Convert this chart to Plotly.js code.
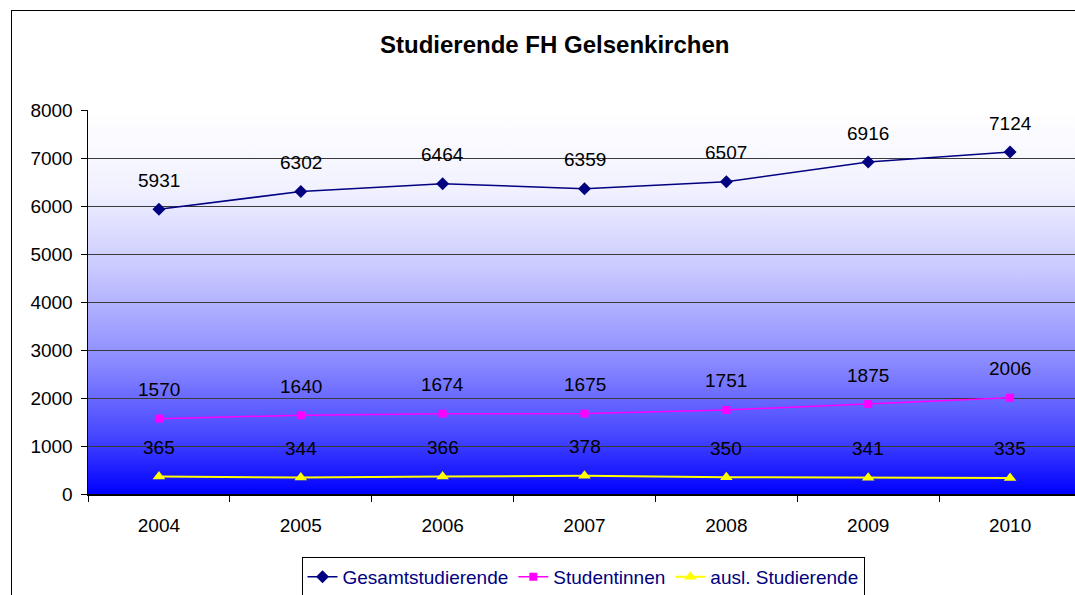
<!DOCTYPE html>
<html>
<head>
<meta charset="utf-8">
<script src="https://cdn.plot.ly/plotly-3.0.1.min.js"></script>
<style>
  html, body { margin: 0; padding: 0; width: 1075px; height: 595px; overflow: hidden; background: #ffffff; }
  #bg { position: absolute; left: 88px; top: 110px; width: 993px; height: 384px;
        background: linear-gradient(to bottom, #ffffff 0%, #f2f2ff 20%, #c8c8ff 42%, #8c8cff 65%, #4646ff 85%, #0000ff 100%); }
  #frame { position: absolute; left: 11px; top: 10px; width: 1100px; height: 620px; border: 1.5px solid #000; }
  #chart { position: absolute; left: 0; top: 0; }
</style>
</head>
<body>
<div id="bg"></div>
<div id="frame"></div>
<div id="chart"></div>
<script>
const years = ['2004', '2005', '2006', '2007', '2008', '2009', '2010'];
const gesamt = [5931, 6302, 6464, 6359, 6507, 6916, 7124];
const studentinnen = [1570, 1640, 1674, 1675, 1751, 1875, 2006];
const ausl = [365, 344, 366, 378, 350, 341, 335];
const seriesNames = ['Gesamtstudierende', 'Studentinnen', 'ausl. Studierende'];
const yTicks = [0, 1000, 2000, 3000, 4000, 5000, 6000, 7000, 8000];

const font = 'Liberation Sans, Arial, sans-serif';

const traces = [
  { x: years, y: gesamt, name: seriesNames[0], type: 'scatter', mode: 'lines+markers',
    line: { color: '#000080', width: 1.5 }, marker: { symbol: 'diamond', size: 10, color: '#000080' } },
  { x: years, y: studentinnen, name: seriesNames[1], type: 'scatter', mode: 'lines+markers',
    line: { color: '#FF00FF', width: 1.5 }, marker: { symbol: 'square', size: 8, color: '#FF00FF' } },
  { x: years, y: ausl, name: seriesNames[2], type: 'scatter', mode: 'lines+markers',
    line: { color: '#FFFF00', width: 2 }, marker: { symbol: 'triangle-up', size: 11, color: '#FFFF00' } }
];

const annotations = [];
[gesamt, studentinnen, ausl].forEach(arr => {
  arr.forEach((v, i) => {
    annotations.push({ x: i, y: v, xref: 'x', yref: 'y', text: String(v), showarrow: false,
      yshift: 29, yanchor: 'middle', font: { family: font, size: 19, color: '#000' } });
  });
});

const layout = {
  width: 1085, height: 595,
  margin: { l: 88, r: 4, t: 110, b: 101, autoexpand: false },
  paper_bgcolor: 'rgba(0,0,0,0)',
  plot_bgcolor: 'rgba(0,0,0,0)',
  font: { family: font, size: 19, color: '#000' },
  title: { text: '<b>Studierende FH Gelsenkirchen</b>', x: 0.47, xref: 'paper', xanchor: 'center',
    y: 1 - 45 / 595, yref: 'container', yanchor: 'middle',
    font: { family: font, size: 24, color: '#000' } },
  xaxis: { type: 'category', range: [-0.5, 6.5], tickson: 'boundaries', ticks: 'outside', ticklen: 6,
    tickcolor: '#000', showgrid: false, showline: true, linecolor: '#000', linewidth: 1.5,
    ticklabelstandoff: 14, automargin: false,
    tickfont: { family: font, size: 19 }, fixedrange: true },
  yaxis: { range: [0, 8000], tickvals: yTicks, ticktext: yTicks.map(String), ticks: 'outside', ticklen: 6,
    tickcolor: '#000', showgrid: true, gridcolor: '#3a3a3a', gridwidth: 1, zeroline: false,
    ticklabelstandoff: 4, automargin: false,
    showline: true, linecolor: '#000', linewidth: 1.5, tickfont: { family: font, size: 19 }, fixedrange: true },
  showlegend: true,
  legend: { orientation: 'h', x: 0.4985, xanchor: 'center', y: -0.164, yanchor: 'top',
    bordercolor: '#000', borderwidth: 1, bgcolor: '#ffffff',
    font: { family: font, size: 19, color: '#000080' }, itemwidth: 30, tracegroupgap: 0 },
  annotations: annotations
};

Plotly.newPlot('chart', traces, layout, { displayModeBar: false, staticPlot: true });
</script>
</body>
</html>
